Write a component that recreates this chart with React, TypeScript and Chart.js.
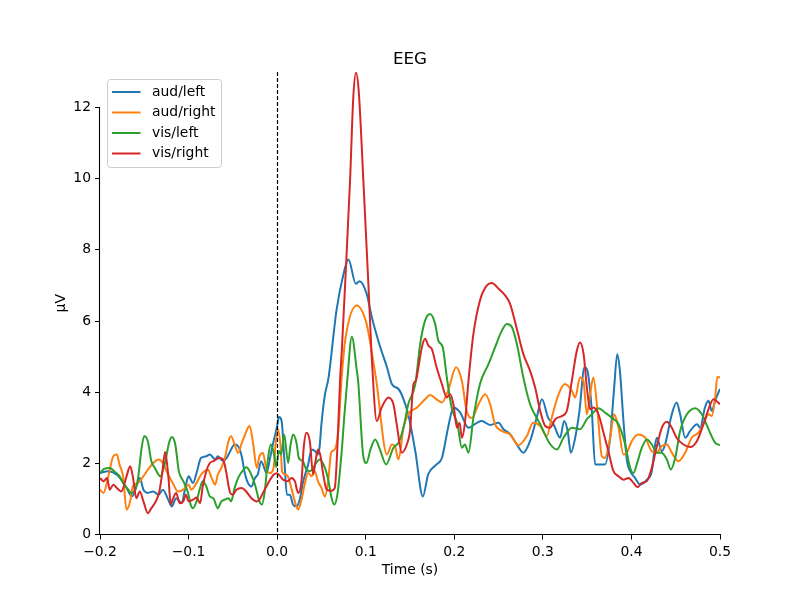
import React, { useEffect, useRef } from "react";
import { Chart, registerables } from "chart.js";

Chart.register(...registerables);

const seriesNames = ["aud/left", "aud/right", "vis/left", "vis/right"];
const seriesColors = ["#1f77b4", "#ff7f0e", "#2ca02c", "#d62728"];

const audLeftT = [-0.2, -0.191, -0.181, -0.176, -0.17, -0.164, -0.159, -0.155, -0.151, -0.146, -0.14, -0.134, -0.129, -0.123, -0.119, -0.114, -0.108, -0.103, -0.1, -0.095, -0.091, -0.086, -0.08, -0.076, -0.07, -0.067, -0.061, -0.057, -0.053, -0.048, -0.044, -0.04, -0.037, -0.033, -0.029, -0.025, -0.022, -0.018, -0.012, -0.008, -0.004, 0.0, 0.002, 0.005, 0.008, 0.011, 0.0143, 0.018, 0.022, 0.026, 0.029, 0.035, 0.039, 0.043, 0.046, 0.048, 0.05, 0.054, 0.058, 0.067, 0.075, 0.0805, 0.0888, 0.093, 0.101, 0.107, 0.116, 0.124, 0.1295, 0.137, 0.142, 0.148, 0.156, 0.1645, 0.1705, 0.18, 0.186, 0.193, 0.199, 0.2066, 0.216, 0.2255, 0.231, 0.2405, 0.25, 0.2555, 0.263, 0.2706, 0.278, 0.2856, 0.293, 0.299, 0.306, 0.312, 0.3195, 0.324, 0.328, 0.3316, 0.3365, 0.3413, 0.347, 0.3503, 0.3553, 0.359, 0.3647, 0.37, 0.376, 0.3805, 0.384, 0.387, 0.391, 0.395, 0.3986, 0.404, 0.41, 0.4174, 0.423, 0.4268, 0.4287, 0.4343, 0.438, 0.4456, 0.451, 0.455, 0.4607, 0.4663, 0.474, 0.4776, 0.483, 0.487, 0.4908, 0.4945, 0.5];
const audLeftV = [1.73, 1.78, 1.68, 1.54, 1.31, 1.07, 1.35, 1.59, 1.26, 1.17, 1.21, 1.12, 1.26, 0.98, 0.79, 1.02, 0.88, 1.4, 1.64, 1.45, 1.73, 2.15, 2.2, 2.25, 2.11, 2.2, 2.06, 2.15, 2.34, 2.53, 2.48, 2.2, 1.78, 1.45, 1.35, 1.59, 1.68, 2.06, 1.73, 2.15, 2.62, 3.05, 3.3, 3.2, 2.16, 1.12, 1.12, 0.84, 0.79, 1.03, 1.45, 1.97, 2.39, 2.34, 2.25, 2.48, 3.1, 3.94, 4.4, 6.3, 7.33, 7.73, 7.05, 7.12, 6.77, 6.1, 5.3, 4.7, 4.23, 4.09, 3.85, 3.38, 2.34, 1.07, 1.69, 1.97, 2.15, 3.0, 3.57, 3.43, 3.0, 3.14, 3.19, 3.08, 3.14, 2.96, 2.82, 2.53, 2.3, 2.63, 3.28, 3.8, 3.28, 3.1, 2.72, 3.19, 2.91, 2.3, 2.72, 3.47, 4.7, 4.6, 3.47, 1.97, 1.97, 1.97, 2.72, 4.13, 5.07, 4.6, 3.19, 2.06, 1.78, 1.59, 1.4, 1.54, 1.78, 2.53, 2.72, 2.34, 2.53, 3.38, 3.71, 3.38, 2.72, 2.91, 3.1, 3.0, 3.57, 3.76, 3.47, 3.76, 4.09];

const audRightT = [-0.2, -0.196, -0.191, -0.185, -0.181, -0.178, -0.174, -0.17, -0.166, -0.163, -0.157, -0.151, -0.146, -0.14, -0.134, -0.129, -0.123, -0.118, -0.112, -0.106, -0.1, -0.097, -0.091, -0.086, -0.082, -0.078, -0.074, -0.07, -0.067, -0.063, -0.059, -0.055, -0.052, -0.048, -0.044, -0.04, -0.037, -0.033, -0.031, -0.027, -0.023, -0.02, -0.016, -0.012, -0.008, -0.004, -0.0018, 0.001, 0.004, 0.0056, 0.0086, 0.012, 0.016, 0.02, 0.0237, 0.0275, 0.031, 0.035, 0.039, 0.0425, 0.046, 0.05, 0.054, 0.0576, 0.061, 0.065, 0.069, 0.0726, 0.0768, 0.09, 0.101, 0.107, 0.112, 0.124, 0.1295, 0.133, 0.137, 0.1426, 0.148, 0.158, 0.167, 0.1727, 0.18, 0.186, 0.193, 0.202, 0.2085, 0.214, 0.22, 0.2273, 0.235, 0.2405, 0.246, 0.2537, 0.263, 0.2725, 0.282, 0.289, 0.297, 0.3045, 0.31, 0.3177, 0.325, 0.3327, 0.3365, 0.342, 0.3458, 0.3497, 0.3534, 0.357, 0.3617, 0.3666, 0.37, 0.376, 0.3805, 0.3854, 0.391, 0.3948, 0.4005, 0.408, 0.4155, 0.423, 0.4287, 0.434, 0.44, 0.4456, 0.453, 0.4607, 0.468, 0.4757, 0.4813, 0.487, 0.4908, 0.4945, 0.497, 0.5];
const audRightV = [1.26, 1.17, 1.59, 2.2, 2.25, 1.97, 1.64, 0.7, 0.93, 1.35, 1.45, 1.64, 1.82, 2.01, 2.11, 2.01, 1.68, 1.45, 1.21, 1.26, 1.4, 1.26, 1.45, 1.68, 1.78, 1.82, 1.59, 1.4, 1.68, 1.87, 2.15, 2.62, 2.76, 2.53, 2.29, 2.57, 2.76, 3.0, 3.05, 2.53, 1.87, 2.2, 2.29, 1.82, 1.73, 1.87, 2.53, 2.95, 2.44, 1.78, 1.69, 1.64, 1.31, 0.93, 0.7, 0.98, 1.4, 1.73, 1.64, 1.78, 1.5, 1.31, 1.07, 1.5, 2.3, 2.39, 2.9, 4.32, 5.45, 6.44, 5.92, 5.1, 4.32, 2.25, 2.53, 2.48, 2.11, 3.0, 3.38, 3.57, 3.8, 3.92, 3.8, 3.71, 4.04, 4.7, 4.32, 3.47, 3.28, 3.66, 3.94, 3.66, 3.1, 2.91, 2.81, 2.51, 2.77, 3.14, 3.05, 2.77, 3.28, 3.94, 4.23, 4.04, 3.85, 4.41, 4.32, 3.38, 3.94, 4.41, 3.47, 2.2, 2.15, 2.72, 3.38, 3.0, 2.25, 2.3, 2.63, 2.81, 2.72, 2.34, 2.3, 2.48, 2.53, 2.3, 2.06, 2.3, 2.72, 2.86, 3.1, 3.38, 3.33, 3.85, 4.43, 4.41];

const visLeftT = [-0.2, -0.195, -0.189, -0.184, -0.178, -0.174, -0.168, -0.165, -0.161, -0.157, -0.153, -0.15, -0.146, -0.142, -0.138, -0.132, -0.127, -0.122, -0.119, -0.115, -0.111, -0.106, -0.101, -0.097, -0.095, -0.091, -0.087, -0.084, -0.08, -0.076, -0.072, -0.067, -0.063, -0.059, -0.055, -0.052, -0.048, -0.044, -0.038, -0.035, -0.031, -0.025, -0.02, -0.017, -0.014, -0.01, -0.007, -0.0035, -0.001, 0.002, 0.0045, 0.008, 0.0124, 0.015, 0.018, 0.0218, 0.0245, 0.029, 0.033, 0.037, 0.0406, 0.044, 0.048, 0.054, 0.058, 0.0614, 0.0644, 0.068, 0.0726, 0.076, 0.0794, 0.0843, 0.09, 0.0915, 0.097, 0.1008, 0.1055, 0.1107, 0.116, 0.123, 0.1313, 0.137, 0.1426, 0.148, 0.156, 0.1615, 0.167, 0.1727, 0.1784, 0.182, 0.187, 0.1916, 0.197, 0.2036, 0.2085, 0.212, 0.216, 0.2216, 0.229, 0.2386, 0.246, 0.2537, 0.2593, 0.265, 0.2706, 0.278, 0.2856, 0.293, 0.297, 0.308, 0.316, 0.3233, 0.3327, 0.342, 0.3497, 0.3553, 0.3628, 0.37, 0.378, 0.3854, 0.393, 0.3986, 0.4023, 0.406, 0.4118, 0.4174, 0.423, 0.4287, 0.434, 0.44, 0.4445, 0.4494, 0.455, 0.4626, 0.472, 0.4795, 0.487, 0.4945, 0.5];
const visLeftV = [1.73, 1.85, 1.87, 1.78, 1.64, 1.45, 1.26, 1.17, 1.21, 1.59, 2.44, 2.77, 2.62, 2.06, 1.87, 1.64, 1.97, 2.58, 2.74, 2.53, 1.78, 1.5, 1.21, 0.79, 0.74, 0.93, 1.31, 1.5, 1.35, 1.07, 1.02, 0.74, 0.93, 0.98, 1.02, 0.93, 1.31, 1.59, 1.82, 1.89, 1.78, 1.4, 0.93, 0.84, 1.21, 2.2, 2.53, 2.25, 1.9, 2.35, 2.25, 2.81, 2.01, 2.5, 2.81, 2.58, 2.15, 2.06, 1.82, 1.78, 1.87, 2.01, 2.11, 1.87, 1.5, 1.03, 0.84, 1.12, 2.25, 3.38, 4.4, 5.56, 4.6, 4.3, 2.25, 2.01, 2.4, 2.67, 2.39, 1.97, 2.44, 2.58, 3.0, 3.66, 4.23, 5.36, 6.01, 6.2, 5.92, 5.45, 5.26, 4.41, 3.57, 3.1, 2.44, 2.53, 2.3, 3.28, 4.23, 4.79, 5.26, 5.73, 5.92, 5.83, 5.36, 4.41, 3.66, 3.28, 3.1, 2.55, 2.39, 2.72, 3.0, 2.96, 3.24, 3.38, 3.55, 3.43, 3.28, 3.1, 2.53, 1.87, 1.73, 1.97, 2.44, 2.67, 2.53, 2.3, 2.3, 2.11, 1.83, 2.15, 2.91, 3.38, 3.55, 3.38, 2.96, 2.58, 2.51];

const visRightT = [-0.2, -0.196, -0.192, -0.189, -0.185, -0.181, -0.176, -0.17, -0.166, -0.163, -0.159, -0.155, -0.151, -0.146, -0.142, -0.136, -0.133, -0.13, -0.1265, -0.123, -0.12, -0.118, -0.114, -0.11, -0.106, -0.103, -0.1, -0.095, -0.091, -0.087, -0.084, -0.08, -0.076, -0.072, -0.069, -0.065, -0.061, -0.058, -0.053, -0.05, -0.046, -0.04, -0.035, -0.029, -0.023, -0.02, -0.016, -0.01, -0.004, 0.0, 0.004, 0.0068, 0.0124, 0.016, 0.02, 0.0237, 0.0275, 0.03, 0.033, 0.0369, 0.0406, 0.0433, 0.046, 0.049, 0.052, 0.056, 0.061, 0.0651, 0.068, 0.071, 0.073, 0.0768, 0.0824, 0.086, 0.089, 0.092, 0.0975, 0.103, 0.107, 0.1125, 0.118, 0.1257, 0.1313, 0.135, 0.1408, 0.1464, 0.15, 0.1539, 0.1566, 0.1595, 0.1634, 0.167, 0.1708, 0.1747, 0.18, 0.186, 0.1916, 0.1953, 0.199, 0.203, 0.206, 0.2085, 0.212, 0.216, 0.2216, 0.229, 0.2368, 0.2424, 0.25, 0.2574, 0.263, 0.2706, 0.278, 0.2856, 0.2913, 0.297, 0.3026, 0.308, 0.314, 0.3214, 0.327, 0.3327, 0.3384, 0.342, 0.346, 0.3497, 0.3534, 0.357, 0.3628, 0.368, 0.374, 0.3797, 0.3854, 0.391, 0.3967, 0.4023, 0.4068, 0.4118, 0.4174, 0.423, 0.4287, 0.4343, 0.44, 0.4456, 0.451, 0.4588, 0.4663, 0.474, 0.4813, 0.487, 0.4925, 0.4955, 0.5];
const visRightV = [1.59, 1.5, 1.59, 1.26, 1.4, 1.31, 1.21, 1.64, 1.92, 1.64, 1.02, 1.21, 0.93, 0.6, 0.74, 0.98, 1.21, 1.68, 2.32, 1.68, 0.84, 0.98, 1.17, 0.88, 0.93, 1.12, 0.93, 0.98, 1.04, 0.88, 1.35, 1.78, 2.01, 2.06, 2.11, 2.15, 2.11, 1.82, 1.17, 1.12, 1.26, 1.31, 1.21, 1.02, 0.93, 0.98, 1.17, 1.45, 1.68, 1.72, 1.62, 1.54, 1.5, 1.59, 1.5, 1.17, 1.5, 2.44, 2.86, 2.62, 1.69, 2.06, 2.39, 2.2, 1.69, 1.26, 1.23, 1.31, 2.44, 4.32, 5.17, 7.05, 10.0, 12.3, 12.98, 12.5, 9.87, 7.05, 4.9, 3.19, 3.57, 3.85, 3.66, 3.1, 2.3, 2.53, 2.91, 4.23, 4.32, 4.7, 5.26, 5.5, 5.31, 5.21, 4.7, 4.23, 3.85, 3.94, 3.66, 3.0, 3.14, 2.72, 3.14, 4.32, 5.64, 6.58, 7.0, 7.07, 6.91, 6.72, 6.48, 5.78, 5.07, 4.6, 4.13, 3.47, 3.05, 3.0, 3.24, 3.33, 3.47, 4.32, 5.17, 5.4, 5.07, 4.13, 3.52, 3.57, 3.38, 2.91, 2.34, 1.78, 1.64, 1.54, 1.59, 1.45, 1.33, 1.45, 1.5, 1.87, 2.48, 3.0, 3.17, 3.0, 2.72, 2.53, 2.46, 2.63, 3.1, 3.52, 3.8, 3.76, 3.66];

const xTicks = [-0.2, -0.1, 0.0, 0.1, 0.2, 0.3, 0.4, 0.5];
const yTicks = [0, 2, 4, 6, 8, 10, 12];

const seriesT = [audLeftT, audRightT, visLeftT, visRightT];
const seriesV = [audLeftV, audRightV, visLeftV, visRightV];

const FONT = "'DejaVu Sans', sans-serif";

const decorPlugin = {
  id: "decor",
  afterDatasetsDraw(chart: any) {
    const ctx = chart.ctx;
    const area = chart.chartArea;
    const xs = chart.scales.x;
    ctx.save();
    const x0 = Math.round(xs.getPixelForValue(0)) + 0.5;
    ctx.strokeStyle = "#000";
    ctx.lineWidth = 1.2;
    ctx.setLineDash([4, 2]);
    ctx.beginPath();
    ctx.moveTo(x0, area.top);
    ctx.lineTo(x0, area.bottom);
    ctx.stroke();
    ctx.setLineDash([]);
    ctx.restore();
  },
  afterDraw(chart: any) {
    const ctx = chart.ctx;
    const area = chart.chartArea;
    const ys = chart.scales.y;
    ctx.save();
    const lx = Math.round(area.left) - 0.5;
    ctx.strokeStyle = "#000";
    ctx.lineWidth = 1.1;
    ctx.beginPath();
    ctx.moveTo(lx, ys.getPixelForValue(yTicks[0]) + 0.5);
    ctx.lineTo(lx, ys.getPixelForValue(yTicks[yTicks.length - 1]));
    ctx.stroke();

    const cx = (area.left + area.right) / 2;
    ctx.fillStyle = "#000";
    ctx.font = `16.7px ${FONT}`;
    ctx.textAlign = "center";
    ctx.textBaseline = "alphabetic";
    ctx.fillText("EEG", cx, 64);

    ctx.font = `13.9px ${FONT}`;
    ctx.textBaseline = "middle";
    ctx.fillText("Time (s)", cx, 570);

    ctx.save();
    ctx.translate(61, (area.top + area.bottom) / 2);
    ctx.rotate(-Math.PI / 2);
    ctx.fillText("µV", 0, 0);
    ctx.restore();

    const bx = 107.5, by = 79.5, bw = 114, bh = 88, r = 3;
    ctx.beginPath();
    ctx.moveTo(bx + r, by);
    ctx.lineTo(bx + bw - r, by);
    ctx.arcTo(bx + bw, by, bx + bw, by + r, r);
    ctx.lineTo(bx + bw, by + bh - r);
    ctx.arcTo(bx + bw, by + bh, bx + bw - r, by + bh, r);
    ctx.lineTo(bx + r, by + bh);
    ctx.arcTo(bx, by + bh, bx, by + bh - r, r);
    ctx.lineTo(bx, by + r);
    ctx.arcTo(bx, by, bx + r, by, r);
    ctx.closePath();
    ctx.fillStyle = "rgba(255,255,255,0.8)";
    ctx.fill();
    ctx.strokeStyle = "#cccccc";
    ctx.lineWidth = 1;
    ctx.stroke();

    ctx.textAlign = "left";
    ctx.textBaseline = "middle";
    ctx.font = `13.9px ${FONT}`;
    for (let i = 0; i < seriesNames.length; i++) {
      const yy = 92 + i * 20.5;
      ctx.strokeStyle = seriesColors[i];
      ctx.lineWidth = 2;
      ctx.beginPath();
      ctx.moveTo(112, yy);
      ctx.lineTo(140.5, yy);
      ctx.stroke();
      ctx.fillStyle = "#000";
      ctx.fillText(seriesNames[i], 152, yy);
    }
    ctx.restore();
  },
};

function fmtX(v: number) {
  const s = Math.abs(v) < 1e-9 ? "0.0" : v.toFixed(1);
  return s.replace("-", "\u2212");
}

export default function App() {
  const ref = useRef<HTMLCanvasElement | null>(null);
  useEffect(() => {
    if (!ref.current) return;
    const datasets = seriesNames.map((name, i) => ({
      label: name,
      data: seriesT[i].map((t, j) => ({ x: t, y: seriesV[i][j] })),
      borderColor: seriesColors[i],
      backgroundColor: seriesColors[i],
      borderWidth: 2,
      pointRadius: 0,
      fill: false,
      cubicInterpolationMode: "monotone" as const,
      order: seriesNames.length - 1 - i,
    }));
    const chart = new Chart(ref.current, {
      type: "line",
      data: { datasets },
      options: {
        responsive: false,
        animation: false,
        devicePixelRatio: 1,
        layout: { padding: { left: 0, right: 80, top: 72, bottom: 0 } },
        plugins: {
          legend: { display: false },
          tooltip: { enabled: false },
          title: { display: false },
        },
        scales: {
          x: {
            type: "linear",
            min: -0.2,
            max: 0.5,
            afterBuildTicks: (s: any) => {
              s.ticks = xTicks.map((v) => ({ value: v }));
            },
            afterFit: (s: any) => {
              s.height = 65.5;
            },
            grid: {
              display: true,
              drawOnChartArea: false,
              drawTicks: true,
              tickLength: 5,
              color: "#000",
              lineWidth: 1,
            },
            border: { display: true, color: "#000", width: 1.1 },
            ticks: {
              color: "#000",
              font: { family: FONT, size: 13.9 },
              padding: 5,
              maxRotation: 0,
              autoSkip: false,
              callback: (v: any) => fmtX(Number(v)),
            },
          },
          y: {
            type: "linear",
            min: 0,
            max: 13,
            afterBuildTicks: (s: any) => {
              s.ticks = yTicks.map((v) => ({ value: v }));
            },
            afterFit: (s: any) => {
              s.width = 100;
            },
            grid: {
              display: true,
              drawOnChartArea: false,
              drawTicks: true,
              tickLength: 5,
              color: "#000",
              lineWidth: 1,
            },
            border: { display: false },
            ticks: {
              color: "#000",
              font: { family: FONT, size: 13.9 },
              padding: 4,
              autoSkip: false,
              callback: (v: any) => String(v),
            },
          },
        },
      },
      plugins: [decorPlugin],
    });
    return () => chart.destroy();
  }, []);
  return (
    <div style={{ position: "absolute", left: 0, top: 0, width: 800, height: 600, background: "#fff" }}>
      <canvas ref={ref} width={800} height={600} style={{ display: "block", width: 800, height: 600 }} />
    </div>
  );
}
